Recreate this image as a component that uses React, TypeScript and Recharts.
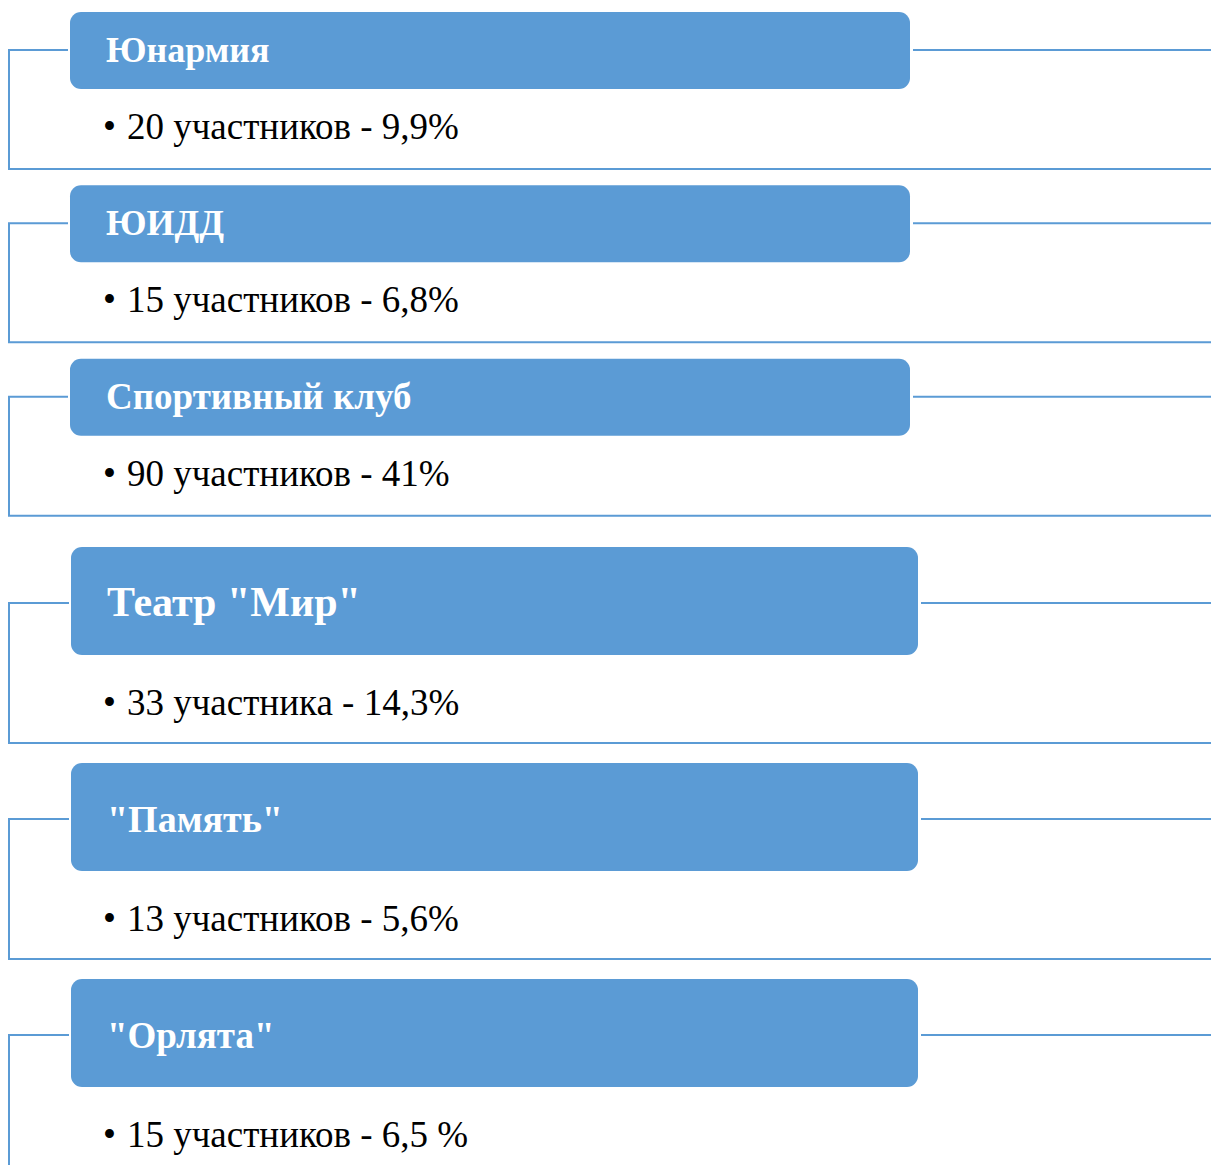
// Кружки и секции: число участников
import { BarChart, Bar, XAxis, YAxis } from "recharts";

const topGroups = ["Юнармия", "ЮИДД", "Спортивный клуб"];
const topCounts = [20, 15, 90];
const topLabels = ["20 участников - 9,9%", "15 участников - 6,8%", "90 участников - 41%"];

const bottomGroups = ['Театр "Мир"', '"Память"', '"Орлята"'];
const bottomCounts = [33, 13, 15];
const bottomLabels = ["33 участника - 14,3%", "13 участников - 5,6%", "15 участников - 6,5 %"];

const BLUE = "#5B9BD5";
const W = 1211;
const FONT = "'Liberation Serif', 'Times New Roman', serif";

type Geo = {
  boxTop: number;
  boxH: number;
  boxLeft: number;
  boxRight: number;
  stubY: number;
  lineY: number;
  headSizes: number[];
  headY: number;
  headX: number;
  textY: number;
};

const makeShape = (g: Geo) => (props: any) => {
  const { payload, index } = props;
  const top = props.background?.y ?? props.y;
  const boxTop = top + g.boxTop;
  const stubY = top + g.stubY;
  const lineY = top + g.lineY;
  return (
    <g>
      <polyline
        points={`${g.boxLeft - 2},${stubY} 9,${stubY} 9,${lineY} ${W},${lineY}`}
        fill="none"
        stroke={BLUE}
        strokeWidth={2}
      />
      <line x1={g.boxRight + 3} y1={stubY} x2={W} y2={stubY} stroke={BLUE} strokeWidth={2} />
      <rect
        x={g.boxLeft}
        y={boxTop}
        width={g.boxRight - g.boxLeft}
        height={g.boxH}
        rx={11}
        fill={BLUE}
      />
      <text
        x={g.headX}
        y={boxTop + g.headY}
        fill="#fff"
        style={{ fontFamily: FONT, fontWeight: "bold", fontSize: g.headSizes[index] }}
      >
        {payload.name}
      </text>
      <text x={103} y={top + g.textY} fill="#000" style={{ fontFamily: FONT, fontSize: 37 }}>
        •
      </text>
      <text x={127} y={top + g.textY} fill="#000" style={{ fontFamily: FONT, fontSize: 37 }}>
        {payload.label}
      </text>
    </g>
  );
};

const topData = topGroups.map((name, i) => ({ name, count: topCounts[i], label: topLabels[i] }));
const bottomData = bottomGroups.map((name, i) => ({
  name,
  count: bottomCounts[i],
  label: bottomLabels[i],
}));

const topShape = makeShape({
  boxTop: 12,
  boxH: 77,
  boxLeft: 70,
  boxRight: 910,
  stubY: 50,
  lineY: 169,
  headSizes: [36, 36, 37],
  headY: 50,
  headX: 106,
  textY: 139,
});

const bottomShape = makeShape({
  boxTop: 12,
  boxH: 108,
  boxLeft: 71,
  boxRight: 918,
  stubY: 68,
  lineY: 208,
  headSizes: [42, 38, 37],
  headY: 69,
  headX: 107,
  textY: 180,
});

function Section({ data, height, shape }: { data: any[]; height: number; shape: any }) {
  return (
    <BarChart
      width={W}
      height={height}
      data={data}
      layout="vertical"
      margin={{ top: 0, right: 0, bottom: 0, left: 0 }}
      barCategoryGap={0}
    >
      <XAxis type="number" hide domain={[0, 100]} />
      <YAxis type="category" dataKey="name" hide />
      <Bar dataKey="count" shape={shape} isAnimationActive={false} />
    </BarChart>
  );
}

export default function App() {
  return (
    <div
      style={{
        position: "absolute",
        top: 0,
        left: 0,
        width: W,
        height: 1165,
        overflow: "hidden",
        background: "#fff",
      }}
    >
      <Section data={topData} height={520} shape={topShape} />
      <div style={{ position: "absolute", top: 535, left: 0 }}>
        <Section data={bottomData} height={648} shape={bottomShape} />
      </div>
    </div>
  );
}
